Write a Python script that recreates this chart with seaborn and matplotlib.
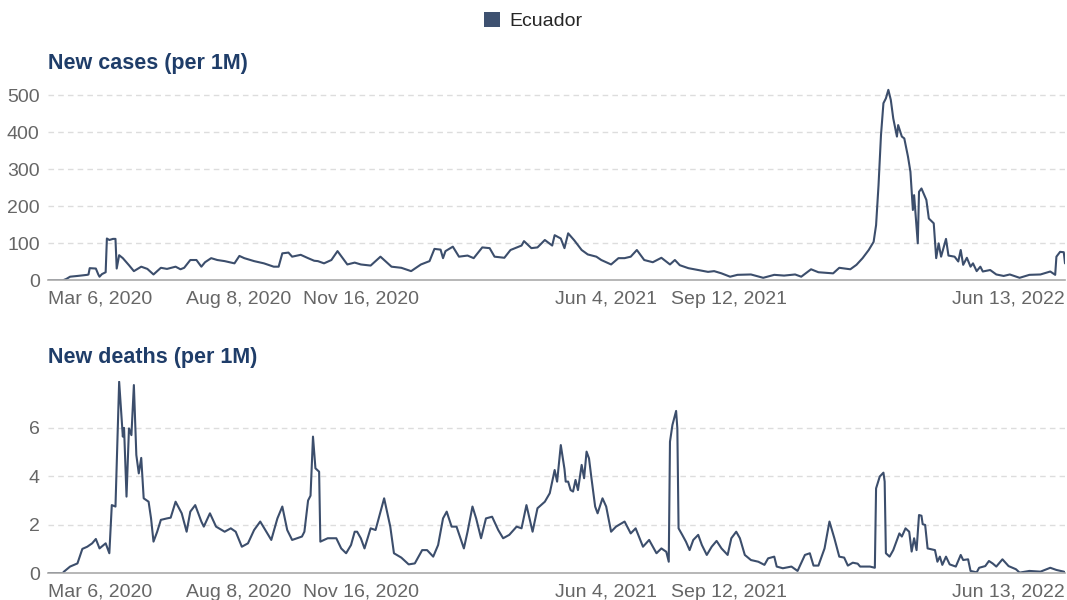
import numpy as np
import pandas as pd
import matplotlib
matplotlib.use("Agg")
import matplotlib.pyplot as plt
from matplotlib.patches import Patch
import seaborn as sns

# ---------------- data ----------------
start_date = "2020-03-06"
country = "Ecuador"

case_days = [0, 12, 15, 18, 24, 32, 33, 34, 39, 41, 42, 44, 47, 48, 50, 53, 55, 56, 58, 61,
             66, 70, 76, 81, 86, 92, 97, 104, 108, 111, 116, 121, 125, 128, 133, 138, 144, 152,
             156, 160, 168, 176, 184, 188, 191, 196, 199, 206, 212, 217, 220, 225, 231, 236,
             244, 250, 255, 263, 271, 280, 288, 296, 304, 311, 315, 320, 322, 324, 330, 335,
             342, 347, 354, 360, 364, 372, 377, 386, 388, 394, 399, 405, 411, 413, 418, 421,
             424, 429, 435, 440, 447, 451, 459, 465, 470, 475, 480, 486, 493, 500, 507, 511,
             515, 522, 530, 538, 543, 549, 556, 562, 573, 583, 592, 600, 609, 614, 622, 628,
             640, 645, 654, 659, 664, 669, 673, 675, 677, 679, 681, 683, 685, 687, 689, 692,
             693, 696, 698, 701, 703, 705, 706, 709, 710, 712, 716, 718, 722, 724, 726, 728,
             732, 734, 739, 742, 744, 746, 749, 752, 754, 757, 760, 762, 768, 773, 779, 784,
             792, 800, 809, 817, 821, 822, 825, 828, 829]
case_values = [0, 0, 4, 10, 12, 15, 16, 33, 32, 16, 10, 17, 22, 113, 109, 112, 112, 32, 68, 60,
               41, 25, 37, 31, 16, 34, 31, 37, 30, 34, 55, 55, 37, 49, 60, 55, 52, 46,
               66, 60, 52, 46, 37, 37, 73, 75, 64, 69, 60, 53, 52, 46, 55, 79,
               43, 48, 43, 40, 64, 37, 34, 25, 43, 52, 85, 83, 60, 79, 91, 64,
               67, 60, 89, 87, 64, 61, 82, 94, 106, 87, 89, 109, 94, 122, 113, 87,
               127, 108, 82, 70, 64, 55, 43, 60, 60, 64, 82, 55, 49, 61, 43, 55,
               41, 33, 28, 23, 25, 19, 10, 15, 16, 7, 15, 13, 16, 10, 30, 22,
               19, 34, 30, 42, 60, 82, 104, 149, 257, 392, 478, 491, 514, 487, 437, 388,
               419, 388, 383, 334, 293, 190, 230, 100, 239, 248, 217, 167, 154, 60, 100, 64,
               112, 67, 64, 51, 82, 42, 61, 37, 46, 25, 37, 24, 28, 16, 12, 16,
               7, 15, 16, 24, 15, 64, 77, 76, 46]

death_days = [0, 12, 13, 18, 24, 28, 32, 36, 39, 42, 47, 50, 52, 55, 58, 61, 62, 64, 66, 68,
              70, 72, 74, 76, 78, 82, 84, 86, 89, 92, 97, 100, 104, 109, 113, 116, 120, 125,
              127, 132, 137, 144, 149, 153, 158, 163, 168, 173, 182, 187, 191, 195, 199, 207,
              209, 212, 214, 216, 218, 221, 222, 228, 235, 239, 243, 247, 250, 252, 255, 258,
              263, 267, 274, 279, 282, 288, 294, 299, 305, 309, 314, 318, 322, 325, 329, 333,
              339, 342, 346, 349, 353, 357, 362, 367, 371, 376, 382, 386, 390, 395, 399, 405,
              409, 413, 415, 418, 421, 422, 424, 426, 428, 430, 432, 435, 437, 439, 441, 443,
              446, 448, 452, 455, 459, 463, 470, 475, 479, 485, 490, 496, 500, 504, 506, 507,
              509, 512, 513, 514, 517, 520, 523, 526, 530, 533, 537, 541, 545, 549, 554, 557,
              561, 564, 568, 573, 579, 584, 587, 592, 594, 599, 606, 611, 617, 621, 624, 628,
              633, 637, 641, 645, 649, 652, 656, 660, 662, 670, 674, 675, 678, 681, 682, 683,
              686, 689, 692, 694, 696, 699, 702, 704, 706, 708, 710, 712, 713, 715, 717, 723,
              725, 727, 729, 732, 735, 740, 744, 746, 750, 752, 757, 759, 764, 767, 770, 773,
              778, 783, 789, 792, 800, 809, 817, 822, 828, 829]
death_values = [0, 0, 0.06, 0.27, 0.4, 1.0, 1.09, 1.23, 1.41, 1.02, 1.23, 0.82, 2.81, 2.75, 7.91,
                5.64, 6.0, 3.16, 5.98, 5.7,
                7.77, 4.88, 4.12, 4.76, 3.09, 2.95, 2.26, 1.3, 1.71, 2.2, 2.26, 2.29, 2.95, 2.47,
                1.71, 2.54, 2.81, 2.13,
                1.92, 2.47, 1.92, 1.71, 1.85, 1.71, 1.09, 1.23, 1.78, 2.13, 1.37, 2.26, 2.75, 1.78,
                1.37, 1.51,
                1.71, 3.0, 3.2, 5.64, 4.33, 4.19, 1.3, 1.44, 1.44, 1.02, 0.82, 1.16, 1.71, 1.71,
                1.44, 1.02,
                1.85, 1.78, 3.09, 1.92, 0.82, 0.64, 0.36, 0.4, 0.95, 0.95, 0.68, 1.16, 2.26, 2.54,
                1.92, 1.92,
                1.02, 1.71, 2.75, 2.26, 1.44, 2.26, 2.33, 1.78, 1.44, 1.58, 1.92, 1.85, 2.81, 1.71,
                2.68, 2.95,
                3.3, 4.26, 3.78, 5.29, 4.3, 3.78, 3.78, 3.43, 3.37, 3.85, 3.43, 4.47, 3.92, 5.02,
                4.74, 3.92,
                2.75, 2.47, 3.09, 2.75, 1.71, 1.92, 2.13, 1.64, 1.85, 1.09, 1.37, 0.82, 1.02, 0.88,
                0.47, 5.43,
                6.12, 6.7, 5.98, 1.85, 1.58, 1.3, 0.95, 1.37, 1.58, 1.16, 0.75, 1.09, 1.33, 1.02,
                0.75, 1.44,
                1.71, 1.44, 0.75, 0.54, 0.47, 0.34, 0.61, 0.68, 0.27, 0.2, 0.27, 0.09, 0.75, 0.82,
                0.31, 0.31,
                1.02, 2.13, 1.44, 0.68, 0.64, 0.31, 0.43, 0.39, 0.27, 0.27, 0.22, 3.5, 3.99, 4.15,
                3.78, 0.82,
                0.68, 0.95, 1.37, 1.64, 1.51, 1.85, 1.71, 0.89, 1.44, 0.95, 2.4, 2.37, 2.02, 1.99,
                1.02, 0.95,
                0.47, 0.68, 0.34, 0.68, 0.36, 0.27, 0.75, 0.54, 0.57, 0.09, 0.03, 0.22, 0.29, 0.5,
                0.4, 0.27,
                0.57, 0.29, 0.16, 0.02, 0.09, 0.06, 0.22, 0.13, 0.06, 0.03]

tick_dates = ["2020-03-06", "2020-08-08", "2020-11-16", "2021-06-04", "2021-09-12", "2022-06-13"]
tick_labels = ["Mar 6, 2020", "Aug 8, 2020", "Nov 16, 2020", "Jun 4, 2021", "Sep 12, 2021", "Jun 13, 2022"]
case_yticks = [0, 100, 200, 300, 400, 500]
death_yticks = [0, 2, 4, 6]
titles = ["New cases (per 1M)", "New deaths (per 1M)"]

# ---------------- build frames ----------------
t0 = pd.Timestamp(start_date)
cases_df = pd.DataFrame({"date": t0 + pd.to_timedelta(case_days, unit="D"),
                         "value": case_values, "location": country})
deaths_df = pd.DataFrame({"date": t0 + pd.to_timedelta(death_days, unit="D"),
                          "value": death_values, "location": country})

# ---------------- style ----------------
sns.set_theme(style="white")
plt.rcParams["font.family"] = ["Liberation Sans", "DejaVu Sans"]

LINE = "#3c4e6c"
TITLE = "#1f3d69"
GRAY = "#666666"
W, H = 1067, 600
FS = 14

fig = plt.figure(figsize=(W / 100, H / 100), dpi=100)

def make_axes(top_px, bottom_px):
    left, right = 48, 1065
    return fig.add_axes([left / W, 1 - bottom_px / H, (right - left) / W, (bottom_px - top_px) / H])

ax1 = make_axes(88, 280.4)
ax2 = make_axes(380.7, 573.1)

xmin, xmax = pd.Timestamp(tick_dates[0]), pd.Timestamp(tick_dates[-1])

for ax, df, yt, ytop in [(ax1, cases_df, case_yticks, 519), (ax2, deaths_df, death_yticks, 7.95)]:
    sns.lineplot(data=df, x="date", y="value", ax=ax, color=LINE, linewidth=1.5, legend=False)
    ax.set_xlim(xmin, xmax)
    ax.set_ylim(0, ytop)
    ax.set_yticks(yt)
    ax.set_yticklabels([str(v) for v in yt])
    ax.set_xticks(pd.to_datetime(tick_dates))
    ax.set_xticklabels(tick_labels)
    ax.set_xlabel("")
    ax.set_ylabel("")
    for s in ["top", "right", "left"]:
        ax.spines[s].set_visible(False)
    ax.spines["bottom"].set_color("#aaaaaa")
    ax.spines["bottom"].set_linewidth(1.2)
    ax.tick_params(axis="y", length=0, pad=6, labelsize=FS, labelcolor=GRAY)
    ax.tick_params(axis="x", length=5, width=1, color="#aaaaaa", direction="out", pad=2.5,
                   labelsize=FS, labelcolor=GRAY)
    labels = ax.get_xticklabels()
    labels[0].set_ha("left")
    labels[-1].set_ha("right")
    ax.grid(False)
    for v in yt[1:]:
        ax.axhline(v, color="#dddddd", linewidth=1, linestyle=(0, (4, 3)), zorder=0)
    ax.set_facecolor("white")

fig.text(48 / W, 1 - 64 / H, titles[0], fontsize=15.5, fontweight="bold", color=TITLE,
         ha="left", va="center")
fig.text(48 / W, 1 - 357 / H, titles[1], fontsize=15.5, fontweight="bold", color=TITLE,
         ha="left", va="center")

fig.legend(handles=[Patch(facecolor="#3e5170", edgecolor="none", label=country)],
           loc="center", bbox_to_anchor=(0.5, 1 - 21 / H), frameon=False,
           handlelength=0.8, handleheight=0.8, handletextpad=0.5, fontsize=FS)

fig.savefig("out.png", dpi=100, facecolor="white")
